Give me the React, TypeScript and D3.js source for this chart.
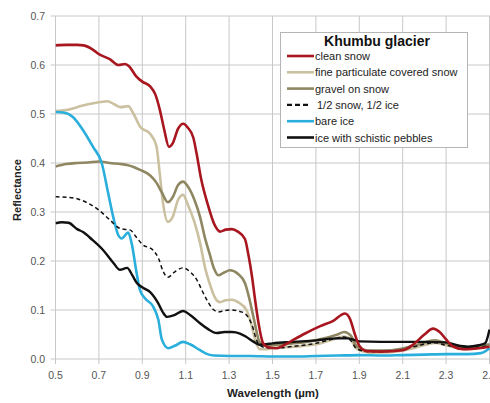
import React from 'react';
import * as d3 from 'd3';

// wavelength (µm), reflectance pairs
const cleanSnow: [number, number][] = [
  [0.5, 0.64], [0.55, 0.641], [0.6, 0.641], [0.63, 0.64], [0.67, 0.632], [0.7, 0.622], [0.75, 0.612],
  [0.79, 0.6], [0.82, 0.602], [0.84, 0.597], [0.87, 0.578], [0.9, 0.566], [0.935, 0.557], [0.96, 0.54],
  [0.98, 0.51], [1.0, 0.47], [1.023, 0.433], [1.04, 0.44], [1.065, 0.47], [1.088, 0.48], [1.11, 0.472],
  [1.135, 0.452], [1.15, 0.42], [1.17, 0.37], [1.2, 0.318], [1.235, 0.272], [1.258, 0.26], [1.285, 0.264],
  [1.313, 0.265], [1.34, 0.26], [1.373, 0.245], [1.39, 0.21], [1.405, 0.17], [1.42, 0.12], [1.435, 0.075],
  [1.456, 0.033], [1.48, 0.024], [1.52, 0.022], [1.56, 0.03], [1.6, 0.04], [1.65, 0.052], [1.72, 0.067],
  [1.78, 0.078], [1.834, 0.093], [1.857, 0.082], [1.88, 0.05], [1.9, 0.027], [1.935, 0.016], [2.0, 0.015],
  [2.1, 0.018], [2.15, 0.03], [2.2, 0.05], [2.24, 0.062], [2.27, 0.055], [2.3, 0.04], [2.33, 0.026],
  [2.38, 0.02], [2.45, 0.022], [2.5, 0.025],
];

const fineParticulate: [number, number][] = [
  [0.5, 0.506], [0.55, 0.508], [0.6, 0.514], [0.65, 0.52], [0.7, 0.524], [0.74, 0.526], [0.77, 0.52],
  [0.8, 0.514], [0.835, 0.516], [0.86, 0.5], [0.89, 0.474], [0.935, 0.46], [0.965, 0.435], [0.98, 0.38],
  [0.995, 0.32], [1.018, 0.28], [1.04, 0.29], [1.065, 0.325], [1.088, 0.335], [1.11, 0.315], [1.14, 0.28],
  [1.166, 0.237], [1.19, 0.185], [1.212, 0.152], [1.235, 0.125], [1.258, 0.116], [1.285, 0.12], [1.313, 0.121],
  [1.345, 0.115], [1.38, 0.1], [1.4, 0.075], [1.42, 0.04], [1.44, 0.02], [1.47, 0.02], [1.5, 0.022],
  [1.6, 0.025], [1.7, 0.03], [1.8, 0.043], [1.83, 0.046], [1.86, 0.04], [1.89, 0.02], [1.95, 0.013],
  [2.05, 0.014], [2.15, 0.022], [2.25, 0.033], [2.3, 0.028], [2.4, 0.02], [2.5, 0.028],
];

const gravelOnSnow: [number, number][] = [
  [0.5, 0.393], [0.55, 0.398], [0.6, 0.4], [0.65, 0.401], [0.7, 0.403], [0.75, 0.4], [0.8, 0.398],
  [0.83, 0.396], [0.86, 0.392], [0.89, 0.386], [0.935, 0.375], [0.965, 0.36], [0.99, 0.34], [1.018, 0.32],
  [1.04, 0.33], [1.065, 0.355], [1.088, 0.362], [1.11, 0.352], [1.14, 0.325], [1.166, 0.29], [1.19, 0.245],
  [1.21, 0.215], [1.23, 0.185], [1.25, 0.171], [1.275, 0.176], [1.304, 0.181], [1.34, 0.174], [1.373, 0.155],
  [1.395, 0.12], [1.415, 0.08], [1.44, 0.035], [1.47, 0.027], [1.5, 0.028], [1.6, 0.032], [1.7, 0.038],
  [1.8, 0.05], [1.83, 0.055], [1.86, 0.048], [1.89, 0.025], [1.95, 0.017], [2.05, 0.018], [2.15, 0.027],
  [2.25, 0.038], [2.3, 0.032], [2.4, 0.024], [2.5, 0.03],
];

const halfSnowIce: [number, number][] = [
  [0.5, 0.331], [0.55, 0.33], [0.6, 0.327], [0.65, 0.318], [0.7, 0.304], [0.75, 0.284], [0.8, 0.266],
  [0.845, 0.263], [0.87, 0.25], [0.9, 0.234], [0.95, 0.222], [0.975, 0.205], [0.995, 0.18], [1.018, 0.167],
  [1.05, 0.178], [1.088, 0.186], [1.12, 0.178], [1.152, 0.161], [1.175, 0.14], [1.198, 0.12], [1.225, 0.102],
  [1.25, 0.096], [1.28, 0.099], [1.313, 0.1], [1.35, 0.097], [1.38, 0.09], [1.405, 0.07], [1.43, 0.035],
  [1.46, 0.024], [1.5, 0.022], [1.6, 0.026], [1.7, 0.032], [1.8, 0.043], [1.83, 0.045], [1.86, 0.038],
  [1.89, 0.02], [1.95, 0.015], [2.05, 0.016], [2.15, 0.025], [2.25, 0.033], [2.3, 0.028], [2.4, 0.022],
  [2.5, 0.028],
];

const bareIce: [number, number][] = [
  [0.5, 0.504], [0.535, 0.503], [0.58, 0.494], [0.627, 0.467], [0.673, 0.433], [0.713, 0.4], [0.743, 0.338],
  [0.766, 0.29], [0.789, 0.253], [0.805, 0.246], [0.835, 0.258], [0.851, 0.236], [0.874, 0.175], [0.889, 0.141],
  [0.912, 0.124], [0.95, 0.107], [0.974, 0.08], [0.99, 0.04], [1.02, 0.022], [1.05, 0.027], [1.088, 0.035],
  [1.12, 0.03], [1.166, 0.018], [1.2, 0.01], [1.23, 0.007], [1.3, 0.006], [1.4, 0.006], [1.5, 0.005],
  [1.6, 0.005], [1.7, 0.006], [1.8, 0.007], [1.9, 0.008], [2.0, 0.007], [2.1, 0.008], [2.2, 0.009],
  [2.3, 0.01], [2.4, 0.01], [2.46, 0.012], [2.5, 0.022],
];

const schisticPebbles: [number, number][] = [
  [0.5, 0.277], [0.53, 0.279], [0.56, 0.278], [0.6, 0.265], [0.627, 0.259], [0.67, 0.243], [0.72, 0.222],
  [0.767, 0.196], [0.797, 0.182], [0.83, 0.186], [0.855, 0.17], [0.875, 0.155], [0.905, 0.145], [0.935, 0.137],
  [0.973, 0.114], [0.995, 0.095], [1.014, 0.086], [1.05, 0.09], [1.088, 0.098], [1.12, 0.09], [1.166, 0.073],
  [1.2, 0.062], [1.244, 0.053], [1.28, 0.055], [1.313, 0.055], [1.35, 0.052], [1.38, 0.045], [1.41, 0.036],
  [1.44, 0.029], [1.47, 0.03], [1.5, 0.032], [1.6, 0.035], [1.7, 0.038], [1.8, 0.042], [1.85, 0.042],
  [1.9, 0.036], [2.0, 0.035], [2.1, 0.035], [2.2, 0.035], [2.3, 0.034], [2.35, 0.028], [2.4, 0.025],
  [2.45, 0.028], [2.48, 0.032], [2.5, 0.06],
];

const xTicks = [0.5, 0.7, 0.9, 1.1, 1.3, 1.5, 1.7, 1.9, 2.1, 2.3, 2.5];
const yTicks = [0, 0.1, 0.2, 0.3, 0.4, 0.5, 0.6, 0.7];

const series = [
  { name: 'fine particulate covered snow', data: fineParticulate, color: '#cbc1a0', width: 2.6, dash: '' },
  { name: 'gravel on snow', data: gravelOnSnow, color: '#8f8762', width: 2.6, dash: '' },
  { name: 'bare ice', data: bareIce, color: '#2aaedc', width: 2.6, dash: '' },
  { name: '1/2 snow, 1/2 ice', data: halfSnowIce, color: '#111', width: 1.5, dash: '4,3' },
  { name: 'ice with schistic pebbles', data: schisticPebbles, color: '#111', width: 2.4, dash: '' },
  { name: 'clean snow', data: cleanSnow, color: '#a8161f', width: 2.6, dash: '' },
];

const legendOrder = [
  'clean snow',
  'fine particulate covered snow',
  'gravel on snow',
  '1/2 snow, 1/2 ice',
  'bare ice',
  'ice with schistic pebbles',
];

export default function App() {
  const width = 490;
  const height = 403;
  const x = d3.scaleLinear().domain([0.5, 2.5]).range([55.5, 489.5]);
  const y = d3.scaleLinear().domain([0, 0.7]).range([359, 16]);

  const line = d3.line<[number, number]>()
    .x(d => x(d[0]))
    .y(d => y(d[1]))
    .curve(d3.curveMonotoneX);

  const font = 'Liberation Sans, Arial, sans-serif';

  return (
    <div style={{ position: 'absolute', left: 0, top: 0 }}>
      <svg width={width} height={height} style={{ display: 'block', background: '#fff' }}>
        <defs>
          <clipPath id="plot">
            <rect x={x(0.5)} y={y(0.7) - 4} width={width - x(0.5)} height={y(0) - y(0.7) + 8} />
          </clipPath>
        </defs>

        {/* grid */}
        {yTicks.map(t => (
          <line key={'gy' + t} x1={x(0.5) - 5} x2={width} y1={y(t)} y2={y(t)} stroke="#c8c8c8" strokeWidth={1} />
        ))}
        {xTicks.map(t => (
          <line key={'gx' + t} x1={x(t)} x2={x(t)} y1={y(0.7)} y2={y(0) + 5} stroke="#c8c8c8" strokeWidth={1} />
        ))}

        {/* tick labels */}
        {yTicks.map(t => (
          <text key={'ty' + t} x={45} y={y(t) + 3.5} textAnchor="end" fontSize={10.5} fill="#555" fontFamily={font}>
            {d3.format('.1f')(t)}
          </text>
        ))}
        {xTicks.map(t => (
          <text key={'tx' + t} x={x(t)} y={379} textAnchor="middle" fontSize={10.5} fill="#555" fontFamily={font}>
            {d3.format('.1f')(t)}
          </text>
        ))}

        {/* axis titles */}
        <text x={273} y={397} textAnchor="middle" fontSize={11.5} fontWeight="bold" fill="#222" fontFamily={font}>
          Wavelength (µm)
        </text>
        <text transform={`translate(21,${190}) rotate(-90)`} textAnchor="middle" fontSize={11} fontWeight="bold" fill="#222" fontFamily={font}>
          Reflectance
        </text>

        {/* spectra */}
        <g clipPath="url(#plot)">
          {series.map(s => (
            <path key={s.name} d={line(s.data) || ''} fill="none" stroke={s.color} strokeWidth={s.width}
              strokeDasharray={s.dash || undefined} strokeLinejoin="round" />
          ))}
        </g>

        {/* legend */}
        <g>
          <rect x={280.5} y={32.5} width={187} height={115} fill="#fff" stroke="#b5b5b5" strokeWidth={1} />
          <text x={377} y={45.5} textAnchor="middle" fontSize={14} fontWeight="bold" fill="#111" fontFamily={font}>
            Khumbu glacier
          </text>
          {legendOrder.map((name, i) => {
            const s = series.find(d => d.name === name)!;
            const cy = 56 + i * 16.3;
            const dashed = !!s.dash;
            return (
              <g key={name}>
                <line x1={287} x2={dashed ? 310 : 314} y1={cy} y2={cy} stroke={s.color}
                  strokeWidth={dashed ? 2.2 : 2.6} strokeDasharray={dashed ? '5,3' : undefined} />
                <text x={dashed ? 317 : 315} y={cy + 4} fontSize={11} fill="#222" fontFamily={font}>
                  {name}
                </text>
              </g>
            );
          })}
        </g>
      </svg>
    </div>
  );
}
